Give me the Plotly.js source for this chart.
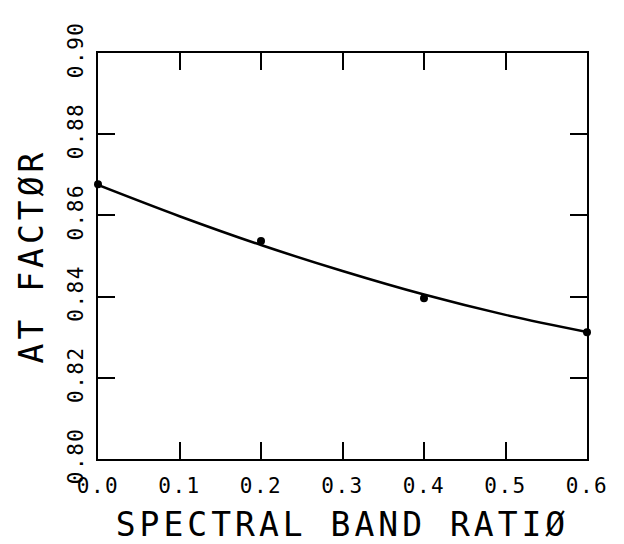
<!DOCTYPE html>
<html>
<head>
<meta charset="utf-8">
<script src="https://cdn.plot.ly/plotly-3.0.1.min.js"></script>
<style>
html,body{margin:0;padding:0;background:#fff;}
#chart{width:624px;height:544px;}
.xtitle,.ytitle{letter-spacing:4px;}
.xtick text,.ytick text{letter-spacing:1.5px;}
</style>
</head>
<body>
<div id="chart"></div>
<script>
// Measured data points
const pointX = [0.0, 0.2, 0.4, 0.6];
const pointY = [0.8677, 0.8537, 0.8396, 0.8312];

// Fitted curve
const curveX = [0.0, 0.1, 0.2, 0.3, 0.4, 0.5, 0.6];
const curveY = [0.8675, 0.8598, 0.8527, 0.8463, 0.8405, 0.8355, 0.8313];

const xTickVals = [0.0, 0.1, 0.2, 0.3, 0.4, 0.5, 0.6];
const xTickText = ["0.0", "0.1", "0.2", "0.3", "0.4", "0.5", "0.6"];
const yTickVals = [0.80, 0.82, 0.84, 0.86, 0.88, 0.90];
const yTickText = ["0.80", "0.82", "0.84", "0.86", "0.88", "0.90"];

const FONT = "DejaVu Sans Mono, Liberation Mono, monospace";

const traces = [
  {
    x: curveX, y: curveY, type: 'scatter', mode: 'lines',
    line: {color: '#000', width: 2.5, shape: 'spline', smoothing: 1},
    hoverinfo: 'skip', showlegend: false
  },
  {
    x: pointX, y: pointY, type: 'scatter', mode: 'markers',
    marker: {color: '#000', size: 8, symbol: 'circle'},
    cliponaxis: false, showlegend: false
  }
];

const axisCommon = {
  showline: true, linecolor: '#000', linewidth: 2,
  ticks: 'inside', ticklen: 17, tickwidth: 2, tickcolor: '#000',
  mirror: 'ticks', showgrid: false, zeroline: false,
  tickfont: {family: FONT, size: 21, color: '#000'}
};

const layout = {
  width: 624, height: 544,
  paper_bgcolor: '#fff', plot_bgcolor: '#fff',
  margin: {l: 98, r: 37, t: 53, b: 85},
  xaxis: Object.assign({}, axisCommon, {
    range: [0, 0.6], tickmode: 'array', tickvals: xTickVals, ticktext: xTickText,
    ticklabelstandoff: 7,
    title: {text: 'SPECTRAL BAND RATIØ', font: {family: FONT, size: 33, color: '#000'}, standoff: 16}
  }),
  yaxis: Object.assign({}, axisCommon, {
    range: [0.80, 0.90], tickmode: 'array', tickvals: yTickVals, ticktext: yTickText,
    tickangle: -90, ticklabelstandoff: 5,
    title: {text: 'AT FACTØR', font: {family: FONT, size: 33, color: '#000'}, standoff: 10}
  })
};

Plotly.newPlot('chart', traces, layout, {displayModeBar: false, staticPlot: true});
</script>
</body>
</html>
